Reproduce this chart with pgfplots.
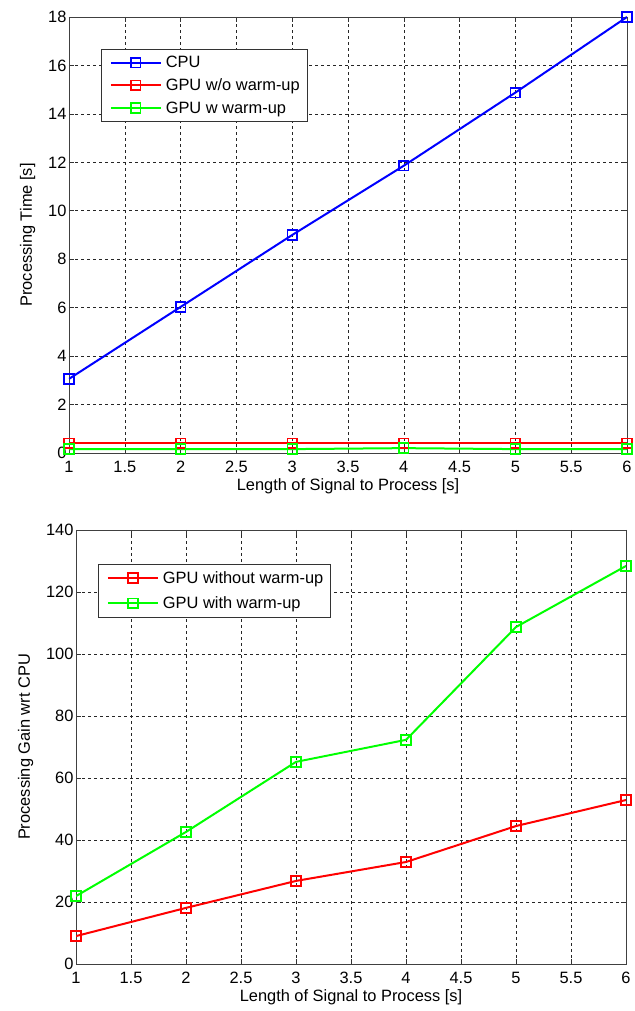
\documentclass[border=0pt]{standalone}
\usepackage{pgfplots}
\pgfplotsset{compat=1.18}
\usepackage{fontspec}
\setmainfont{Liberation Sans}
\definecolor{mblue}{rgb}{0,0,1}
\definecolor{mred}{rgb}{1,0,0}
\definecolor{mgreen}{rgb}{0,1,0}
\pgfplotsset{
  mstyle/.style={
    scale only axis,
    xmin=1, xmax=6,
    xtick={1,1.5,2,2.5,3,3.5,4,4.5,5,5.5,6},
    grid=major,
    major grid style={black!85, line width=0.6pt, dash pattern=on 3pt off 3pt},
    tick align=inside,
    major tick length=5pt,
    tick style={black!80, line width=0.6pt},
    axis line style={black!75, line width=0.9pt},
    font=\fontsize{16.4}{19}\selectfont,
    /pgf/number format/assume math mode=true,
    xticklabel style={yshift=-5pt},
    yticklabel style={xshift=1pt},
    xlabel={Length of Signal to Process [s]},
    xlabel style={yshift=1pt},
    ylabel style={yshift=6pt},
    legend cell align=left,
    legend style={draw=black!80, line width=0.9pt, fill=white, font=\fontsize{16.4}{19}\selectfont,
      row sep=5.5pt, inner xsep=5.5pt, inner ysep=5pt},
    legend image code/.code={\path (0pt,0pt) (55pt,0pt);
      \draw[mark repeat=2, mark phase=2] plot coordinates {(3pt,0pt) (28pt,0pt) (53pt,0pt)};},
    every axis plot/.append style={line width=2pt, mark=square, mark size=4.8pt, mark options={line width=1.7pt, solid}},
  }
}
\begin{document}
\begin{tikzpicture}[x=1pt,y=1pt]
\useasboundingbox (0,0) rectangle (634,1011);
\begin{axis}[mstyle,
  at={(69pt,558pt)}, anchor=south west,
  width=558pt, height=436pt,
  ymin=0, ymax=18, ytick={0,2,4,6,8,10,12,14,16,18},
  ylabel={Processing Time [s]},
  legend style={at={(0.057,0.927)}, anchor=north west},
]
\addplot[color=mblue] coordinates {(1,3.06) (2,6.03) (3,9.0) (4,11.86) (5,14.88) (6,18.0)};
\addlegendentry{CPU}
\addplot[color=mred] coordinates {(1,0.40) (2,0.40) (3,0.40) (4,0.40) (5,0.40) (6,0.40)};
\addlegendentry{GPU w/o warm-up}
\addplot[color=mgreen] coordinates {(1,0.16) (2,0.16) (3,0.16) (4,0.2) (5,0.16) (6,0.16)};
\addlegendentry{GPU w warm-up}
\end{axis}
\begin{axis}[mstyle,
  at={(76pt,47pt)}, anchor=south west,
  width=550pt, height=434pt,
  ymin=0, ymax=140, ytick={0,20,40,60,80,100,120,140},
  ylabel={Processing Gain wrt CPU},
  legend style={at={(0.04,0.922)}, anchor=north west, row sep=8pt},
]
\addplot[color=mred] coordinates {(1,9.0) (2,18.1) (3,26.8) (4,32.9) (5,44.5) (6,52.9)};
\addlegendentry{GPU without warm-up}
\addplot[color=mgreen] coordinates {(1,21.9) (2,42.6) (3,65.2) (4,72.3) (5,108.7) (6,128.4)};
\addlegendentry{GPU with warm-up}
\end{axis}
\end{tikzpicture}
\end{document}
